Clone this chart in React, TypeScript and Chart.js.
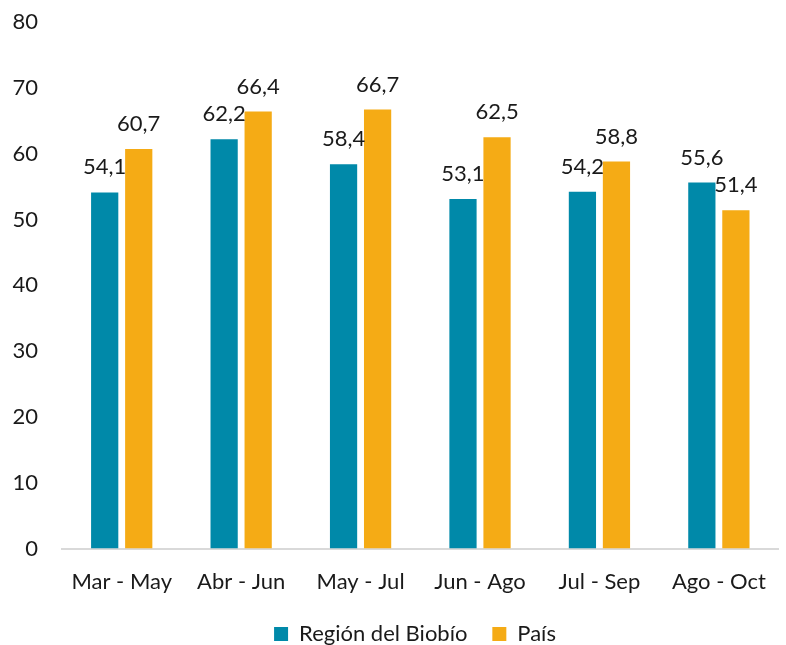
import React, { useEffect, useRef } from "react";
import { Chart, registerables } from "chart.js";

Chart.register(...registerables);

const categories = ["Mar - May", "Abr - Jun", "May - Jul", "Jun - Ago", "Jul - Sep", "Ago - Oct"];
const regionValues = [54.1, 62.2, 58.4, 53.1, 54.2, 55.6];
const paisValues = [60.7, 66.4, 66.7, 62.5, 58.8, 51.4];
const seriesNames = ["Región del Biobío", "País"];
const colors = ["#0089A9", "#F5AB15"];

const FONT = "Lato, 'Open Sans', sans-serif";
const FS = 22;

const labelPlugin = {
  id: "valueLabels",
  afterDatasetsDraw(chart: any) {
    const ctx = chart.ctx;
    ctx.save();
    ctx.font = `${FS}px ${FONT}`;
    ctx.fillStyle = "#1a1a1a";
    ctx.textAlign = "center";
    ctx.textBaseline = "alphabetic";
    chart.data.datasets.forEach((ds: any, i: number) => {
      const meta = chart.getDatasetMeta(i);
      meta.data.forEach((el: any, j: number) => {
        const v = ds.data[j];
        ctx.fillText(v.toFixed(1).replace(".", ","), el.x, el.y - 18);
      });
    });
    ctx.restore();
  },
};

const legendShift = {
  id: "legendShift",
  afterLayout(chart: any) {
    if (chart.legend) {
      chart.legend.left += 23;
      chart.legend.right += 23;
    }
  },
};

export default function App() {
  const ref = useRef<HTMLCanvasElement | null>(null);
  useEffect(() => {
    document.body.style.margin = "0";
    const defaultGen = Chart.defaults.plugins.legend.labels.generateLabels;
    const chart = new Chart(ref.current!, {
      type: "bar",
      data: {
        labels: categories,
        datasets: [
          { label: seriesNames[0], data: regionValues, backgroundColor: colors[0], barPercentage: 0.8, categoryPercentage: 0.57 },
          { label: seriesNames[1], data: paisValues, backgroundColor: colors[1], barPercentage: 0.8, categoryPercentage: 0.57 },
        ],
      },
      options: {
        animation: false,
        responsive: false,
        maintainAspectRatio: false,
        layout: { padding: { top: 0, right: 2, left: 0, bottom: -10 } },
        plugins: {
          legend: {
            position: "bottom",
            labels: {
              boxWidth: 14,
              boxHeight: 14,
              padding: 8,
              color: "#1a1a1a",
              font: { family: FONT, size: FS },
              generateLabels: (c: any) => {
                const items = defaultGen(c);
                items.forEach((it: any, i: number) => {
                  if (i < items.length - 1) it.text = it.text + "   ";
                });
                return items;
              },
            },
          },
          tooltip: { enabled: false },
        },
        scales: {
          x: {
            grid: { display: false, drawTicks: false },
            border: { display: true, color: "#d9d9d9", width: 2 },
            ticks: { color: "#1a1a1a", font: { family: FONT, size: FS }, padding: 20, maxRotation: 0 },
          },
          y: {
            min: 0,
            max: 80,
            grid: { display: false, drawTicks: false },
            border: { display: false },
            ticks: { stepSize: 10, color: "#1a1a1a", font: { family: FONT, size: FS }, padding: 24 },
            afterFit: (scale: any) => {
              scale.width = 62;
              scale.paddingTop = 22;
              scale.paddingBottom = 0;
            },
          },
        },
      },
      plugins: [labelPlugin, legendShift],
    });
    return () => chart.destroy();
  }, []);
  return (
    <div style={{ width: 786, height: 645 }}>
      <canvas ref={ref} width={786} height={645} style={{ display: "block" }} />
    </div>
  );
}
